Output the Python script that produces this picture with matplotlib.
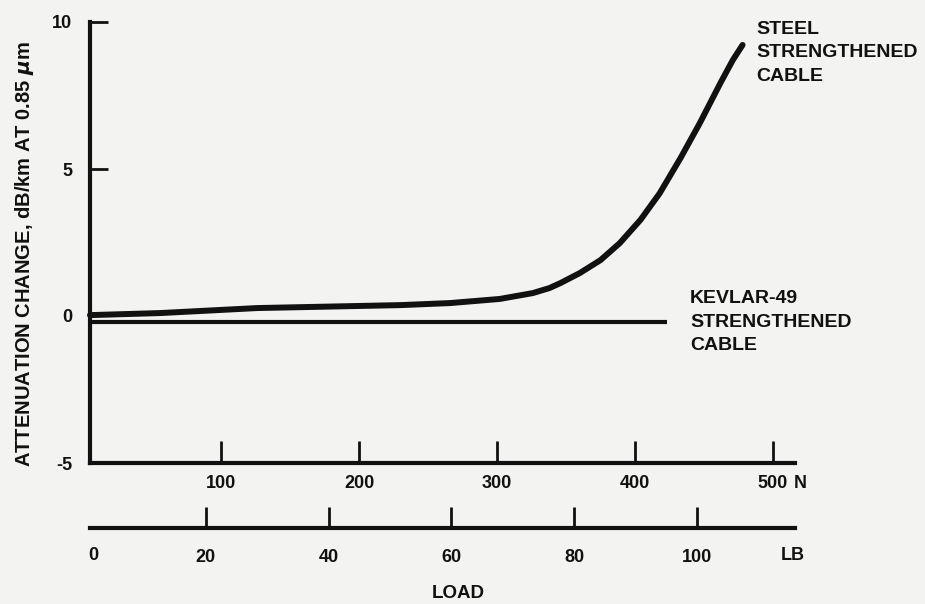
import matplotlib.pyplot as plt

# load in newtons, attenuation change in dB/km
steel_load = [5, 56, 126, 230, 266, 302, 326, 338, 346, 360, 375, 389, 404,
              418, 433, 447, 462, 471, 478]
steel_db = [0.03, 0.10, 0.27, 0.37, 0.44, 0.58, 0.78, 0.95, 1.12, 1.46, 1.90,
            2.48, 3.27, 4.18, 5.37, 6.56, 7.93, 8.71, 9.22]
kevlar_load = [5, 423]
kevlar_db = [-0.2, -0.2]

n_ticks = [100, 200, 300, 400, 500]
lb_ticks = [20, 40, 60, 80, 100]
db_ticks = [-5, 0, 5, 10]

N_PER_LB = 4.448

plt.rcParams['font.family'] = 'Liberation Sans'
plt.rcParams['font.weight'] = 'bold'
plt.rcParams['axes.unicode_minus'] = False

ink = '#111111'
paper = '#f3f3f1'
fs = 13

W, H = 925, 604
x0, x1 = 90, 795     # pixel extent of the load axes
y0, y1 = 22, 463     # pixel extent of the attenuation axis

fig = plt.figure(figsize=(W / 100, H / 100), dpi=100, facecolor=paper)
ax = fig.add_axes([x0 / W, 1 - y1 / H, (x1 - x0) / W, (y1 - y0) / H])
ax.set_facecolor('none')
ax.set_xlim(5, 516)
ax.set_ylim(-5, 10)

ax.plot(steel_load, steel_db, color=ink, lw=4.3, solid_capstyle='round',
        solid_joinstyle='round', clip_on=False)
ax.plot(kevlar_load, kevlar_db, color=ink, lw=3, solid_capstyle='butt')

for s in ['top', 'right']:
    ax.spines[s].set_visible(False)
for s in ['left', 'bottom']:
    ax.spines[s].set_linewidth(3)
    ax.spines[s].set_color(ink)

ax.set_xticks(n_ticks)
ax.tick_params(axis='x', direction='in', length=16, width=2, pad=9,
               labelsize=fs, colors=ink)
ax.set_yticks(db_ticks)
ax.tick_params(axis='y', direction='in', length=13, width=2, pad=13,
               labelsize=fs, colors=ink)
yt = ax.yaxis.get_major_ticks()
yt[0].tick1line.set_visible(False)
yt[1].tick1line.set_visible(False)

ax.annotate('N', xy=(520, 0), xycoords=('data', 'axes fraction'),
            xytext=(0, -21), textcoords='offset pixels',
            ha='center', va='center', fontsize=fs, color=ink)

# second load scale in pounds
ax2 = fig.add_axes([x0 / W, 1 - 528 / H, (x1 - x0) / W, 0.0001])
ax2.set_facecolor('none')
ax2.set_xlim(5 / N_PER_LB, 516 / N_PER_LB)
ax2.set_ylim(0, 1)
for s in ['top', 'right', 'left']:
    ax2.spines[s].set_visible(False)
ax2.spines['bottom'].set_linewidth(3)
ax2.spines['bottom'].set_color(ink)
ax2.set_yticks([])
ax2.set_xticks(lb_ticks)
ax2.tick_params(axis='x', direction='in', length=15, width=2, pad=15,
                labelsize=fs, colors=ink)
for lbl, xv in [('0', 1.6), ('LB', 115.7)]:
    ax2.annotate(lbl, xy=(xv, 0), xycoords=('data', 'axes fraction'),
                 xytext=(0, -27), textcoords='offset pixels',
                 ha='center', va='center', fontsize=fs, color=ink)

ax.text(488, 10.05, 'STEEL\nSTRENGTHENED\nCABLE', ha='left', va='top',
        linespacing=1.5, fontsize=14, color=ink)
ax.text(440, 0.88, 'KEVLAR-49\nSTRENGTHENED\nCABLE', ha='left', va='top',
        linespacing=1.5, fontsize=14, color=ink)

fig.text(25 / W, 1 - 254 / H, 'ATTENUATION CHANGE, dB/km AT 0.85 $\\mu$m',
         rotation=90, ha='center', va='center', fontsize=14.5, color=ink)
fig.text(458 / W, 1 - 593 / H, 'LOAD', ha='center', va='center',
         fontsize=13.5, color=ink)

fig.savefig('out.png', dpi=100, facecolor=paper)
